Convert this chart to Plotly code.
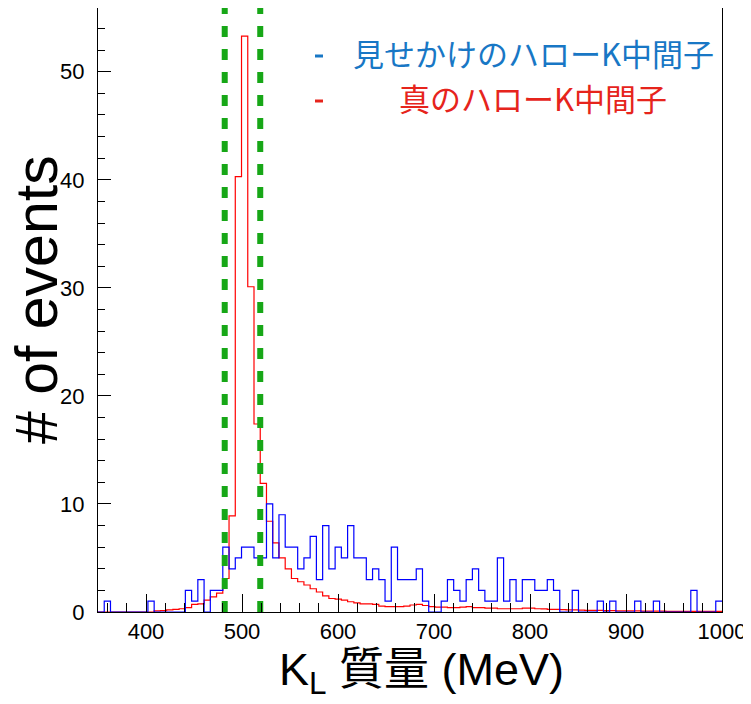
import numpy as np
import plotly.graph_objects as go

# ---- data ----
bin_lo, bin_hi, n_bins = 350.0, 1000.0, 100
bin_edges = np.linspace(bin_lo, bin_hi, n_bins + 1)

fake_halo = [
    0, 1, 0, 0, 0, 0, 0, 0, 1, 0,
    0, 0, 0, 0, 2, 1, 3, 0, 2, 2,
    6, 4, 5, 6, 6, 5, 5, 10, 5, 9,
    6, 6, 4, 5, 7, 3, 8, 4, 6, 5,
    8, 5, 5, 3, 4, 3, 1, 6, 3, 3,
    3, 4, 1, 0, 0, 1, 3, 2, 1, 3,
    4, 2, 1, 1, 5, 1, 3, 1, 3, 3,
    2, 2, 3, 2, 0, 0, 2, 0, 0, 0,
    1, 0, 1, 0, 0, 0, 1, 0, 0, 1,
    0, 0, 0, 0, 0, 2, 0, 0, 0, 1,
]

true_halo = [
    0, 0, 0, 0, 0, 0, 0, 0, 0, 0.1,
    0.12, 0.2, 0.25, 0.3, 0.4, 0.7, 0.75, 1.1, 1.4, 1.75,
    3.1, 8.9, 40.3, 53.3, 30.1, 17.4, 11.9, 8.4, 6.4, 5.0,
    4.0, 3.1, 2.8, 2.5, 2.15, 1.85, 1.5, 1.25, 1.2, 1.1,
    0.95, 0.85, 0.75, 0.75, 0.7, 0.55, 0.5, 0.5, 0.5, 0.55,
    0.65, 0.7, 0.6, 0.5, 0.45, 0.45, 0.4, 0.4, 0.45, 0.5,
    0.4, 0.4, 0.35, 0.35, 0.3, 0.3, 0.3, 0.3, 0.35, 0.35,
    0.3, 0.28, 0.25, 0.25, 0.22, 0.2, 0.2, 0.18, 0.15, 0.15,
    0.15, 0.12, 0.12, 0.1, 0.1, 0.1, 0.1, 0.08, 0.08, 0.08,
    0.08, 0.05, 0.05, 0.05, 0.05, 0.05, 0.05, 0.05, 0.05, 0.05,
]

cut_lines = [482, 519]
y_max = 55.9

x_ticks = [400, 500, 600, 700, 800, 900, 1000]
y_ticks = [0, 10, 20, 30, 40, 50]

legend_fake = "見せかけのハローK中間子"
legend_true = "真のハローK中間子"
x_title = "K<sub>L</sub> 質量 (MeV)"
y_title = "# of events"

# ---- figure (page body has an 8px margin) ----
OFF = 8
W, H = 751 - OFF, 704 - OFF
L, R, T, B = 90, 29, 0, 92
PW, PH = W - L - R, H - T - B

def px2paper_x(px):  # page pixel -> paper
    return (px - OFF - L) / PW

def px2paper_y(py):
    return (OFF + H - B - py) / PH

LATIN = "Liberation Sans, Arial, Noto Sans CJK JP, sans-serif"
CJK = "Noto Sans CJK JP, Liberation Sans, sans-serif"

fig = go.Figure()

def stairs(counts):
    xs = list(bin_edges)
    ys = list(counts) + [counts[-1]]
    return xs, ys

xr, yr = stairs(true_halo)
fig.add_trace(go.Scatter(x=xr, y=yr, mode="lines", line=dict(color="#ff0000", width=1.2, shape="hv"),
                         name=legend_true, showlegend=False, hoverinfo="skip"))
xb, yb = stairs(fake_halo)
fig.add_trace(go.Scatter(x=xb, y=yb, mode="lines", line=dict(color="#0000ff", width=1.2, shape="hv"),
                         name=legend_fake, showlegend=False, hoverinfo="skip"))

for xc in cut_lines:
    fig.add_trace(go.Scatter(x=[xc, xc], y=[0, y_max], mode="lines",
                             line=dict(color="#17a717", width=6, dash="11px,12px"),
                             showlegend=False, hoverinfo="skip"))

fig.update_layout(
    width=W, height=H,
    margin=dict(l=L, r=R, t=T, b=B, pad=0),
    paper_bgcolor="white", plot_bgcolor="white",
    showlegend=False,
    font=dict(family=LATIN, color="black"),
)

fig.update_xaxes(
    range=[bin_lo, bin_hi], showgrid=False, zeroline=False,
    showline=True, linecolor="black", linewidth=1, mirror=True,
    ticks="inside", ticklen=18, tickwidth=1, tickcolor="black",
    tickvals=x_ticks, ticktext=[str(v) for v in x_ticks],
    tickfont=dict(family=LATIN, size=22, color="black"),
    ticklabelstandoff=0,
    minor=dict(ticks="inside", dtick=20, tick0=0, ticklen=9, tickwidth=1, tickcolor="black"),
)
fig.update_yaxes(
    range=[0, y_max], showgrid=False, zeroline=False,
    showline=True, linecolor="black", linewidth=1, mirror=True,
    ticks="inside", ticklen=13, tickwidth=1, tickcolor="black",
    tickvals=y_ticks, ticktext=[str(v) for v in y_ticks],
    tickfont=dict(family=LATIN, size=22, color="black"),
    ticklabelstandoff=8,
    minor=dict(ticks="inside", dtick=2, tick0=0, ticklen=7, tickwidth=1, tickcolor="black"),
)

# axis titles
fig.add_annotation(xref="paper", yref="paper", x=px2paper_x(421), y=px2paper_y(672),
                   text=x_title, showarrow=False, xanchor="center", yanchor="middle",
                   font=dict(family=LATIN, size=45, color="black"))
fig.add_annotation(xref="paper", yref="paper", x=px2paper_x(37), y=px2paper_y(300),
                   text=y_title, showarrow=False, xanchor="center", yanchor="middle",
                   textangle=-90, font=dict(family=LATIN, size=59, color="black"))

# legend-like annotations
fig.add_annotation(xref="paper", yref="paper", x=px2paper_x(351), y=px2paper_y(52),
                   text=legend_fake, showarrow=False, xanchor="left", yanchor="middle",
                   font=dict(family=CJK, size=31, color="#1877c5"))
fig.add_annotation(xref="paper", yref="paper", x=px2paper_x(397), y=px2paper_y(97),
                   text=legend_true, showarrow=False, xanchor="left", yanchor="middle",
                   font=dict(family=CJK, size=31, color="#e6241c"))
fig.add_shape(type="line", xref="paper", yref="paper",
              x0=px2paper_x(315), x1=px2paper_x(323), y0=px2paper_y(56), y1=px2paper_y(56),
              line=dict(color="#1877c5", width=3))
fig.add_shape(type="line", xref="paper", yref="paper",
              x0=px2paper_x(315), x1=px2paper_x(323), y0=px2paper_y(101), y1=px2paper_y(101),
              line=dict(color="#e6241c", width=3))

fig.write_html("out.html")
